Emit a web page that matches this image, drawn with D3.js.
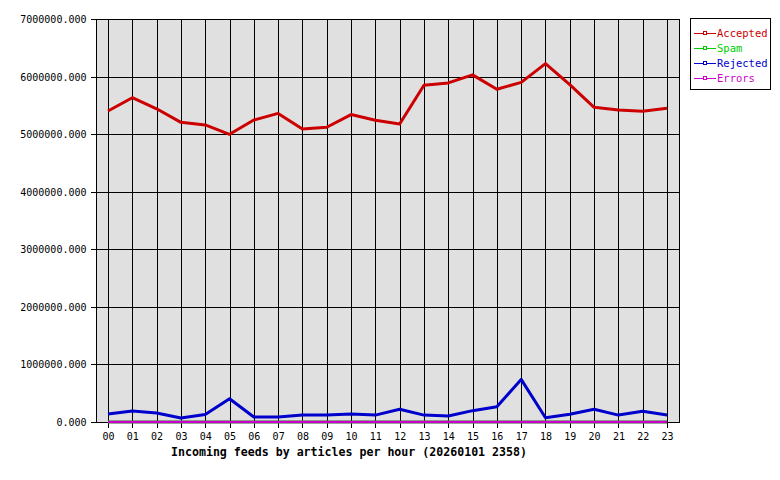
<!DOCTYPE html>
<html><head><meta charset="utf-8">
<script src="https://cdn.jsdelivr.net/npm/d3@7"></script>
<style>body{margin:0;background:#fff}</style>
</head><body>
<svg id="c" width="780" height="480"></svg>
<script>
const hours = ["00","01","02","03","04","05","06","07","08","09","10","11","12","13","14","15","16","17","18","19","20","21","22","23"];
const accepted = [5402000,5633000,5440000,5205000,5160000,4997000,5246000,5360000,5090000,5120000,5340000,5240000,5176000,5850000,5890000,6030000,5780000,5900000,6225000,5860000,5466000,5420000,5397000,5450000];
const spam = [2000,2000,2000,2000,2000,2000,2000,2000,2000,2000,2000,2000,2000,2000,2000,2000,2000,2000,2000,2000,2000,2000,2000,2000];
const rejected = [139000,190000,156000,70000,132000,405000,87000,87000,120000,120000,139000,120000,220000,120000,104000,197000,266000,740000,75000,133000,220000,120000,185000,120000];
const errors = [0,0,0,0,0,0,0,0,0,0,0,0,0,0,0,0,0,0,0,0,0,0,0,0];
const yTicks = [0,1000000,2000000,3000000,4000000,5000000,6000000,7000000];
const seriesNames = ["Accepted","Spam","Rejected","Errors"];
const seriesColors = ["#cc0000","#00cc00","#0000cc","#cc00cc"];
const title = "Incoming feeds by articles per hour (20260101 2358)";

const svg = d3.select("#c");
const L=96, R=679, T=19, B=422;
const x = d3.scalePoint().domain(hours).range([108,667]);
const y = d3.scaleLinear().domain([0,7000000]).range([B,T]);
const font = "'DejaVu Sans Mono', monospace";

svg.append("rect").attr("x",L).attr("y",T).attr("width",R-L).attr("height",B-T).attr("fill","#e0e0e0");

const g = svg.append("g").attr("shape-rendering","crispEdges");
g.selectAll("line.h").data(yTicks).join("line")
  .attr("x1",L).attr("x2",R).attr("y1",d=>Math.round(y(d))+0.5).attr("y2",d=>Math.round(y(d))+0.5)
  .attr("stroke","#000");
g.selectAll("line.v").data(hours).join("line")
  .attr("x1",d=>Math.round(x(d))+0.5).attr("x2",d=>Math.round(x(d))+0.5).attr("y1",T).attr("y2",B)
  .attr("stroke","#000");

const ya = svg.append("g").attr("transform",`translate(${L+0.5},0)`)
  .call(d3.axisLeft(y).tickValues(yTicks).tickFormat(d=>d3.format(".3f")(d)).tickSize(6).tickPadding(4));
const xa = svg.append("g").attr("transform",`translate(0,${B+0.5})`)
  .call(d3.axisBottom(x).tickSize(5).tickPadding(5));
[ya,xa].forEach(a=>{
  a.selectAll("path").remove();
  a.selectAll("line").attr("stroke","#000").attr("shape-rendering","crispEdges");
  a.selectAll("text").attr("font-family",font).attr("font-size","10px").attr("fill","#000");
});
ya.selectAll("text").attr("dy","0.35em");

svg.append("rect").attr("x",L+0.5).attr("y",T+0.5).attr("width",R-L).attr("height",B-T)
  .attr("fill","none").attr("stroke","#000").attr("shape-rendering","crispEdges");

const data = [accepted,spam,rejected,errors];
const line = d3.line().x((d,i)=>x(hours[i])).y(d=>y(d));
data.forEach((s,k)=>{
  svg.append("path").datum(s).attr("d",line).attr("fill","none")
    .attr("stroke",seriesColors[k]).attr("stroke-width",k===3?2.5:3).attr("stroke-linejoin","round");
});

svg.append("text").attr("x",349).attr("y",456).attr("text-anchor","middle")
  .attr("font-family",font).attr("font-weight","bold").attr("font-size","11.6px").text(title);

const lg = svg.append("g");
lg.append("rect").attr("x",690.5).attr("y",18.5).attr("width",80).attr("height",71)
  .attr("fill","#fff").attr("stroke","#000").attr("shape-rendering","crispEdges");
seriesNames.forEach((n,i)=>{
  const yy = 33 + i*15;
  lg.append("line").attr("x1",694).attr("x2",716).attr("y1",yy+0.5).attr("y2",yy+0.5)
    .attr("stroke",seriesColors[i]).attr("shape-rendering","crispEdges");
  lg.append("rect").attr("x",703.5).attr("y",yy-1.5).attr("width",3).attr("height",3)
    .attr("fill","#fff").attr("stroke",seriesColors[i]).attr("shape-rendering","crispEdges");
  lg.append("text").attr("x",717).attr("y",yy+4).attr("font-family",font).attr("font-size","10.5px")
    .attr("fill",seriesColors[i]).text(n);
});
</script>
</body></html>
